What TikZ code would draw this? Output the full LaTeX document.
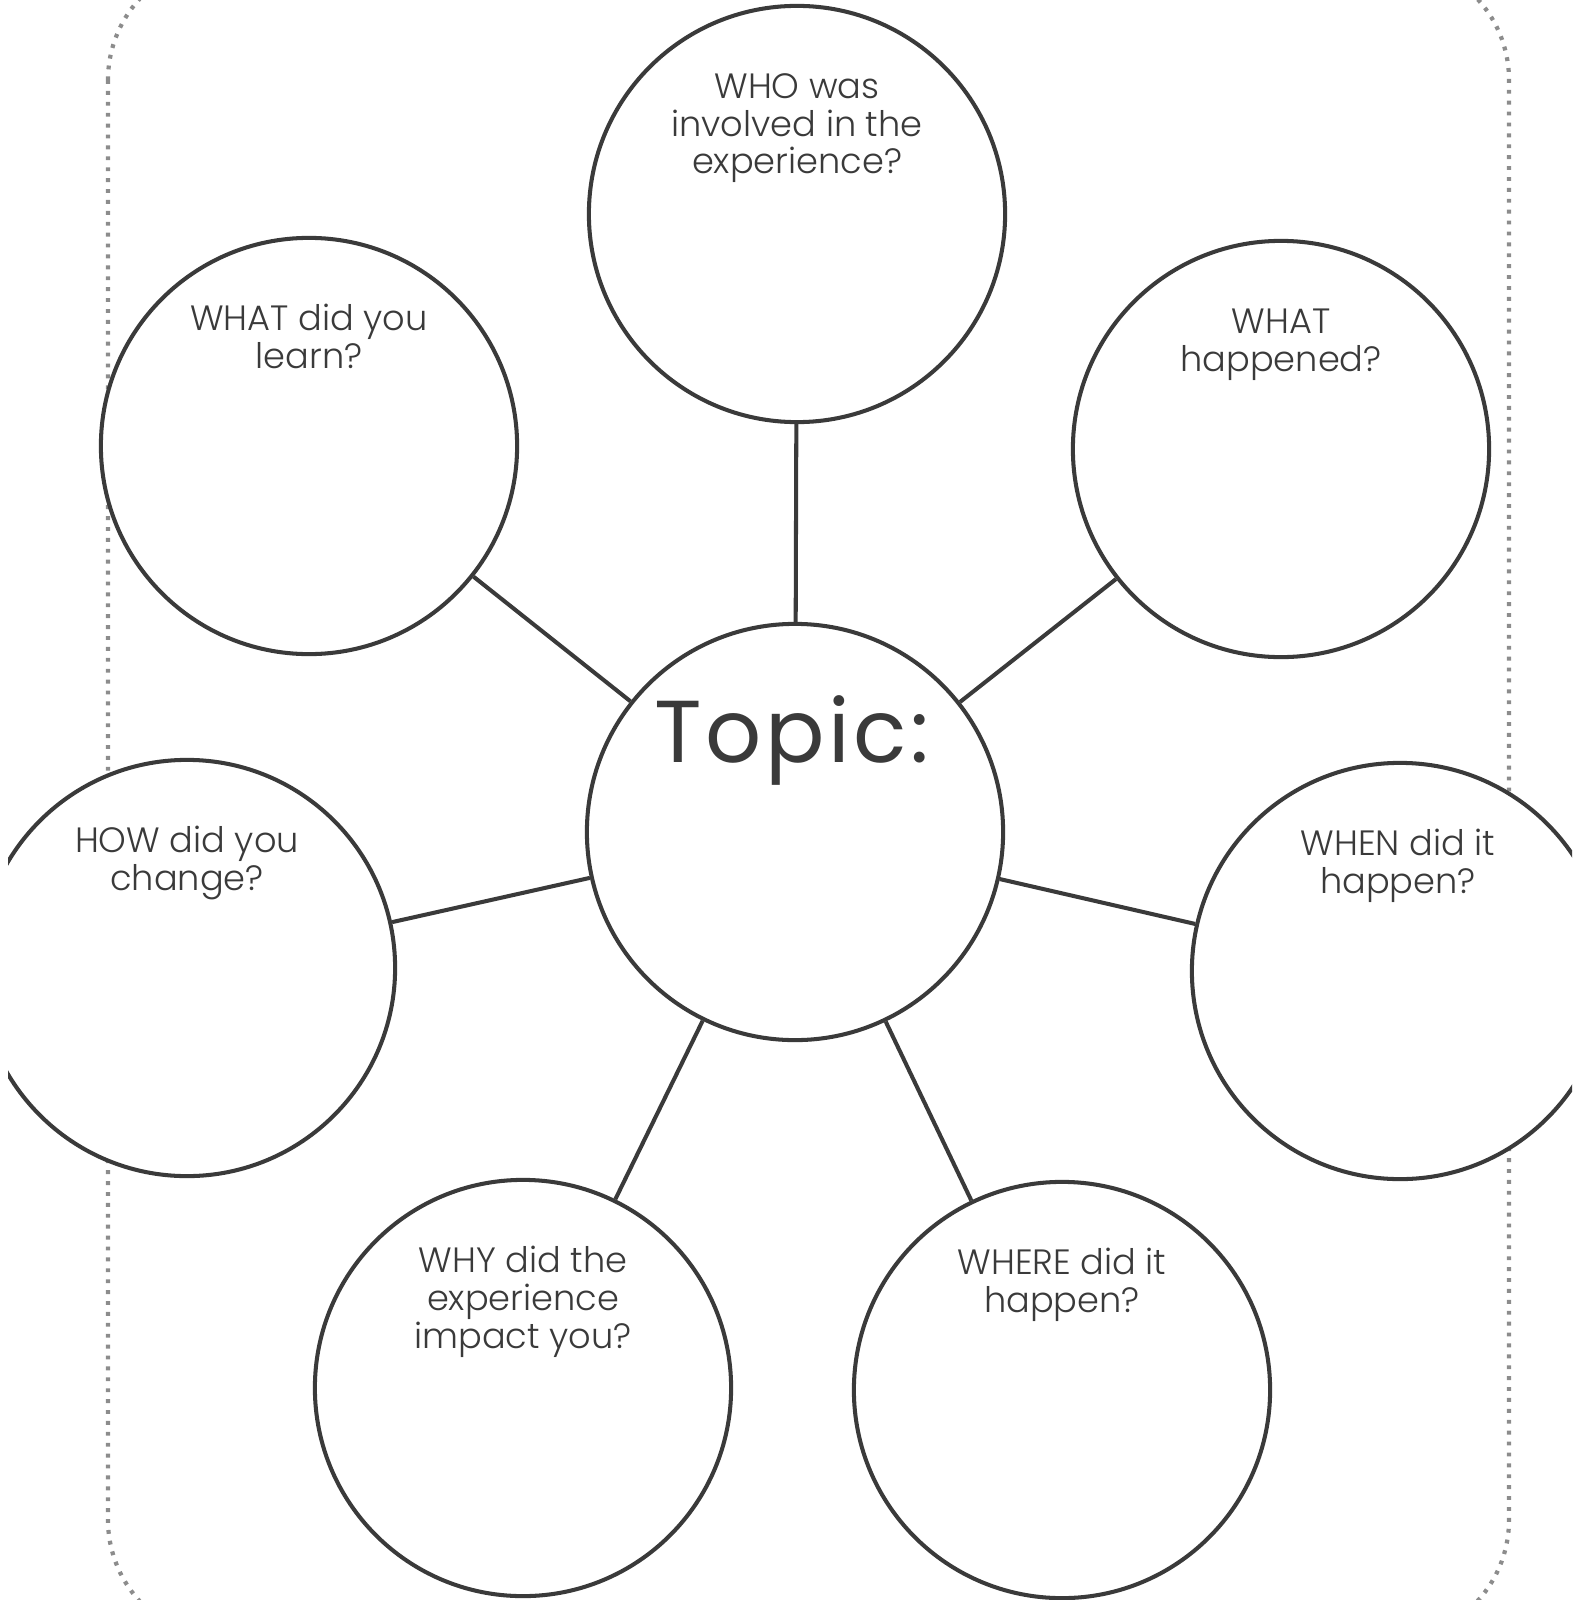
\documentclass[tikz,border=0pt]{standalone}
\usepackage{fontspec}
\IfFontExistsTF{Poppins Light}{\setmainfont{Poppins Light}}{\setmainfont{Poppins}}
\newfontfamily\topicfont{Poppins}[LetterSpace=4]
\usetikzlibrary{graphs}
\definecolor{ink}{HTML}{3A3A3A}
\definecolor{dotgray}{HTML}{8C8C8C}
\tikzset{
    bubble/.style ={
        shape=circle,
        draw=ink,
        fill=white,
        line width=1.15pt,
        inner sep=0pt,
        minimum size=4.16cm
    },
    ask/.style ={
        anchor=base,
        align=center,
        text=ink,
        font=\fontsize{10}{10.8}\selectfont
    }
}

\begin{document}
\begin{tikzpicture}[x=0.01cm,y=-0.01cm]
    \useasboundingbox (0,0) rectangle (1581,1600);
    \begin{scope}
    \clip (8,0) rectangle (1572,1600);
    \draw[dotgray, line width=1.2pt, dash pattern=on 1.1pt off 2pt, rounded corners=1.2cm] (108,-40) rectangle (1509,1640);
    \node[bubble] (topic) at (795,832) {};
    \node[bubble] (who) at (797,214) {};
    \node[bubble] (learn) at (309,446) {};
    \node[bubble] (happened) at (1281,449) {};
    \node[bubble] (how) at (187,968) {};
    \node[bubble] (when) at (1400,971) {};
    \node[bubble] (why) at (523,1388) {};
    \node[bubble] (where) at (1062,1390) {};
    \node[anchor=base, text=ink, font=\topicfont\fontsize{25}{30}\selectfont] at (792,762) {Topic:};
    \node[ask] at (797,174) {WHO was\\involved in the\\experience?};
    \node[ask] at (309,368) {WHAT did you\\learn?};
    \node[ask] at (1281,371) {WHAT\\happened?};
    \node[ask] at (187,890) {HOW did you\\change?};
    \node[ask] at (1398,893) {WHEN did it\\happen?};
    \node[ask] at (523,1348) {WHY did the\\experience\\impact you?};
    \node[ask] at (1062,1312) {WHERE did it\\happen?};
    \begin{scope}[ink, line width=1.15pt]
    \graph{
        (topic)--(who);
        (topic)--(learn);
        (topic)--(happened);
        (topic)--(how);
        (topic)--(when);
        (topic)--(why);
        (topic)--(where);
    };
    \end{scope}
    \end{scope}
\end{tikzpicture}
\end{document}
